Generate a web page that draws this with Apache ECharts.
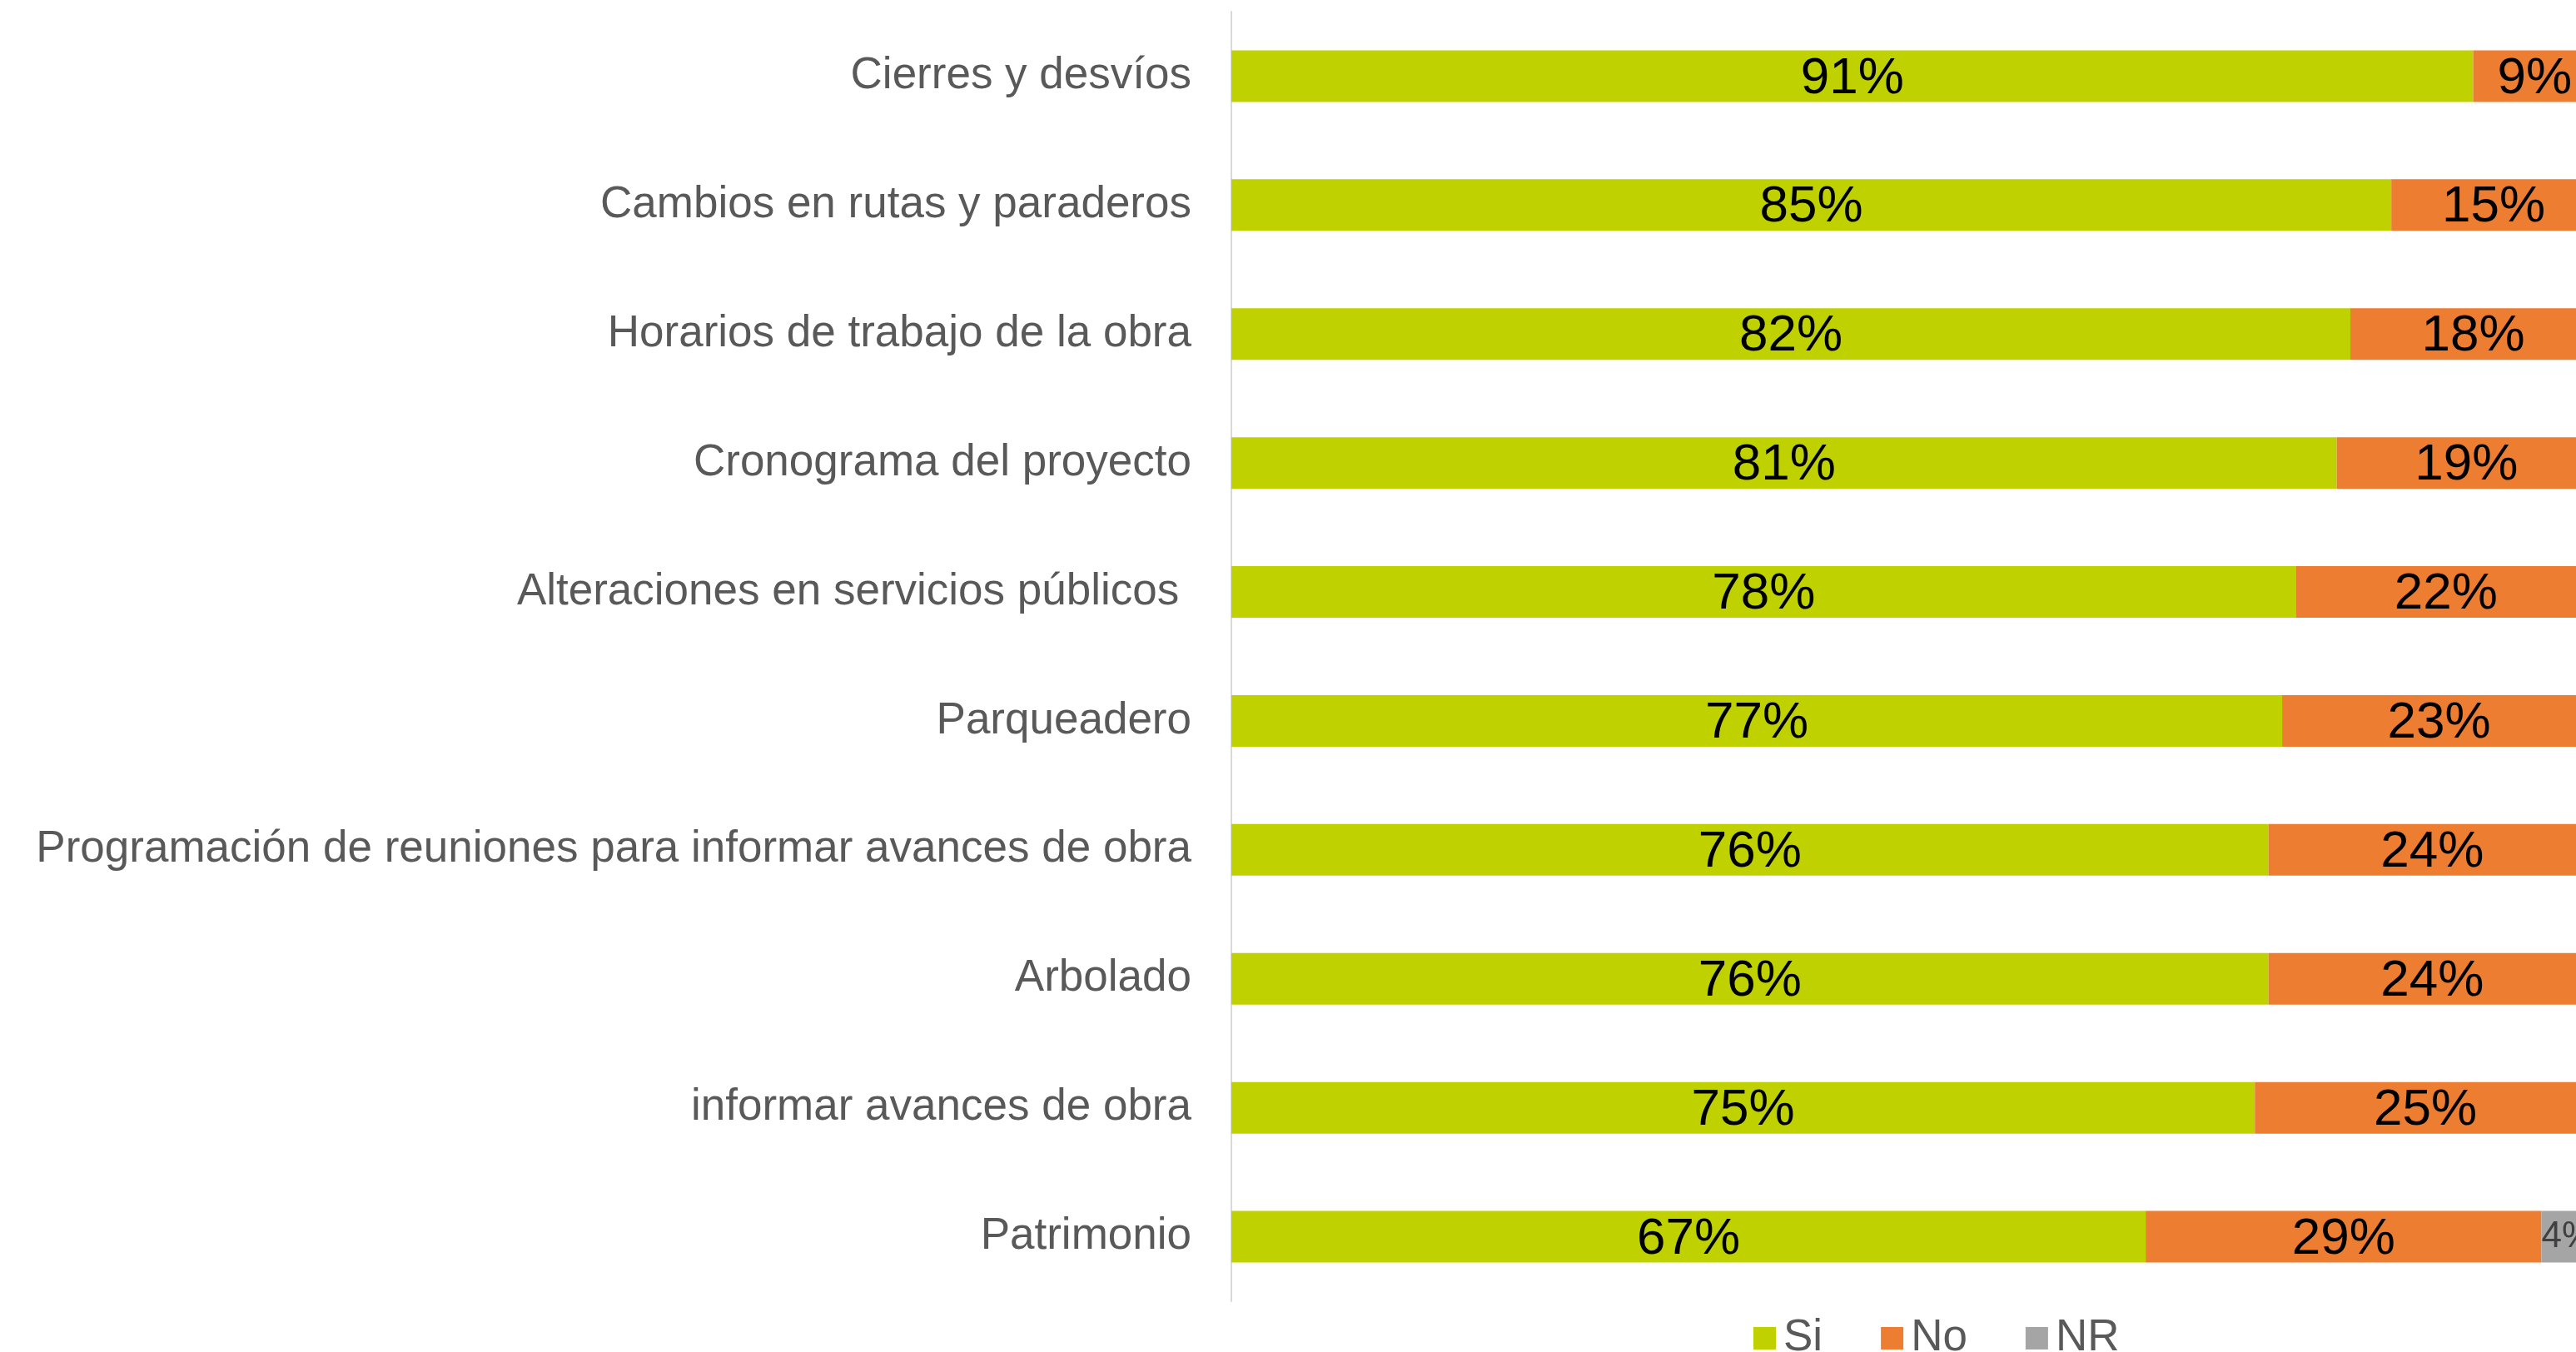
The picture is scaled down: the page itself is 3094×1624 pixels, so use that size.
<!DOCTYPE html>
<html>
<head>
<meta charset="utf-8">
<script src="https://cdn.jsdelivr.net/npm/echarts@6/dist/echarts.min.js"></script>
<style>
  html, body { margin: 0; padding: 0; background: #fff; }
  #chart { width: 3094px; height: 1624px; }
</style>
</head>
<body>
<div id="chart"></div>
<script>
const categories = [
  "Cierres y desvíos",
  "Cambios en rutas y paraderos",
  "Horarios de trabajo de la obra",
  "Cronograma del proyecto",
  "Alteraciones en servicios públicos ",
  "Parqueadero",
  "Programación de reuniones para informar avances de obra",
  "Arbolado",
  "informar avances de obra",
  "Patrimonio",
];
const si = [91, 85, 82, 81, 78, 77, 76, 76, 75, 67];
const no = [9, 15, 18, 19, 22, 23, 24, 24, 25, 29];
const nr = [0, 0, 0, 0, 0, 0, 0, 0, 0, 4];

const font = "'Liberation Sans', Arial, sans-serif";
const pct = (p) => (p.value ? p.value + "%" : "");

const chart = echarts.init(document.getElementById("chart"));
chart.setOption({
  animation: false,
  textStyle: { fontFamily: font },
  // plot runs a little past the right edge, like the cropped original
  grid: { left: 1479, right: -24, top: 14, bottom: 61, outerBoundsMode: "none" },
  legend: {
    left: 2101,
    top: 1576,
    itemWidth: 27,
    itemHeight: 27,
    itemGap: 70,
    icon: "rect",
    textStyle: {
      fontSize: 53,
      lineHeight: 50,
      color: "#595959",
      fontFamily: font,
      padding: [0, 0, 0, 4],
    },
    data: ["Si", "No", "NR"],
  },
  xAxis: { type: "value", min: 0, max: 100, show: false },
  yAxis: {
    type: "category",
    inverse: true,
    data: categories,
    axisLine: { lineStyle: { color: "#d9d9d9", width: 2 } },
    axisTick: { show: false },
    axisLabel: {
      margin: 48,
      fontSize: 53,
      color: "#595959",
      fontFamily: font,
      padding: [6, 0, 0, 0],
    },
  },
  series: [
    {
      name: "Si",
      type: "bar",
      stack: "t",
      barWidth: 62,
      data: si,
      itemStyle: { color: "#bfd200" },
      label: { show: true, formatter: pct, fontSize: 62, color: "#000", fontFamily: font, offset: [0, 3] },
    },
    {
      name: "No",
      type: "bar",
      stack: "t",
      data: no,
      itemStyle: { color: "#ed7d31" },
      label: { show: true, formatter: pct, fontSize: 62, color: "#000", fontFamily: font, offset: [0, 3] },
    },
    {
      name: "NR",
      type: "bar",
      stack: "t",
      data: nr,
      itemStyle: { color: "#a5a5a5" },
      label: {
        show: true,
        position: "insideLeft",
        distance: 0,
        formatter: pct,
        fontSize: 44,
        color: "#404040",
        fontFamily: font,
      },
    },
  ],
});
</script>
</body>
</html>
